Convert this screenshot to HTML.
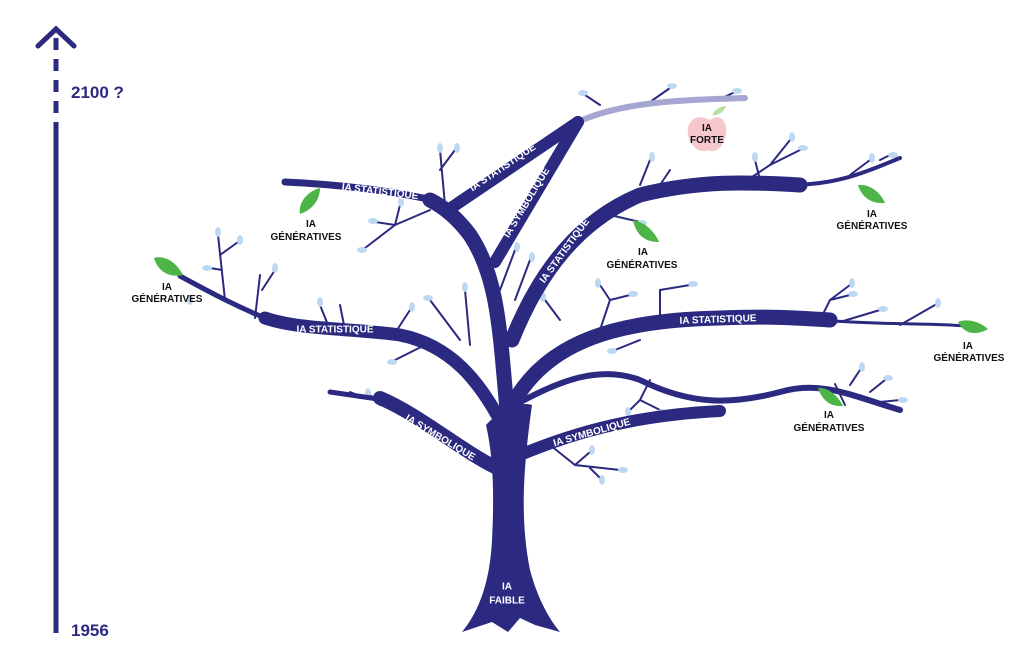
<!DOCTYPE html>
<html><head><meta charset="utf-8"><style>
html,body{margin:0;padding:0;background:#fff;width:1024px;height:657px;overflow:hidden}
svg{display:block}
.b{fill:none;stroke:#2b2a80;stroke-linecap:round;stroke-linejoin:round}
.t{fill:none;stroke:#2b2a80;stroke-width:2;stroke-linecap:round}
.lab{font-family:"Liberation Sans",sans-serif;font-weight:bold;fill:#fff;font-size:10px;text-anchor:middle;dominant-baseline:central}
.blk{font-family:"Liberation Sans",sans-serif;font-weight:bold;fill:#111;font-size:10px;text-anchor:middle}
.bud{fill:#bcd8f2}
.g{fill:#4db548}
</style></head><body>
<svg width="1024" height="657" viewBox="0 0 1024 657">
<!-- timeline -->
<polyline points="38,46 56,29 74,46" fill="none" stroke="#2b2a80" stroke-width="5" stroke-linecap="round"/>
<line x1="56" y1="38" x2="56" y2="125" stroke="#2b2a80" stroke-width="5" stroke-dasharray="12,9"/>
<line x1="56" y1="122" x2="56" y2="633" stroke="#2b2a80" stroke-width="5"/>
<text x="71" y="98" font-family="Liberation Sans,sans-serif" font-weight="bold" font-size="17" fill="#2b2a80">2100 ?</text>
<text x="71" y="636" font-family="Liberation Sans,sans-serif" font-weight="bold" font-size="17" fill="#2b2a80">1956</text>

<!-- twigs -->
<g class="t">
<path d="M445,205 L440,150 M440,170 L455,150"/>
<path d="M430,210 L395,225 L365,248 M395,225 L375,222 M395,225 L400,205"/>
<path d="M225,300 L218,235 M220,255 L238,242 M222,270 L210,268"/>
<path d="M255,318 L260,275 M262,290 L275,270"/>
<path d="M330,330 L320,305 M345,330 L340,305 M395,333 L410,310"/>
<path d="M425,345 L395,360 M460,340 L430,300 M470,345 L465,290"/>
<path d="M640,185 L650,160 M660,185 L670,170"/>
<path d="M740,185 L770,165 L790,140 M770,165 L800,150 M760,180 L755,160"/>
<path d="M880,160 L890,155 M850,175 L870,160"/>
<path d="M610,215 L640,222 M560,320 L545,300 M600,330 L610,300 M610,300 L600,285 M610,300 L630,295"/>
<path d="M660,320 L660,290 L690,285 M640,340 L615,350"/>
<path d="M820,320 L830,300 L850,285 M830,300 L850,295 M840,322 L880,310 M900,325 L935,305"/>
<path d="M650,380 L640,400 L630,410 M640,400 L660,410"/>
<path d="M850,385 L860,370 M870,392 L885,380 M880,402 L900,400 M835,384 L845,405"/>
<path d="M550,445 L575,465 L620,470 M575,465 L590,452 M590,468 L600,478"/>
<path d="M380,405 L370,395 M365,398 L350,392"/>
<path d="M500,290 L515,250 M515,300 L530,260"/>
<path d="M600,105 L585,95 M650,102 L670,88 M720,99 L735,92"/>
</g>
<g class="bud">
<ellipse cx="440" cy="148" rx="3" ry="5"/><ellipse cx="457" cy="148" rx="3" ry="5"/>
<ellipse cx="362" cy="250" rx="5" ry="3"/><ellipse cx="373" cy="221" rx="5" ry="3"/><ellipse cx="401" cy="202" rx="3" ry="5"/>
<ellipse cx="218" cy="232" rx="3" ry="5"/><ellipse cx="240" cy="240" rx="3" ry="5"/><ellipse cx="207" cy="268" rx="5" ry="3"/>
<ellipse cx="275" cy="268" rx="3" ry="5"/><ellipse cx="320" cy="302" rx="3" ry="5"/><ellipse cx="412" cy="307" rx="3" ry="5"/>
<ellipse cx="392" cy="362" rx="5" ry="3"/><ellipse cx="428" cy="298" rx="5" ry="3"/><ellipse cx="465" cy="287" rx="3" ry="5"/>
<ellipse cx="652" cy="157" rx="3" ry="5"/><ellipse cx="792" cy="137" rx="3" ry="5"/><ellipse cx="803" cy="148" rx="5" ry="3"/>
<ellipse cx="755" cy="157" rx="3" ry="5"/><ellipse cx="893" cy="155" rx="5" ry="3"/><ellipse cx="872" cy="158" rx="3" ry="5"/>
<ellipse cx="642" cy="223" rx="5" ry="3"/><ellipse cx="543" cy="297" rx="3" ry="5"/><ellipse cx="598" cy="283" rx="3" ry="5"/><ellipse cx="633" cy="294" rx="5" ry="3"/>
<ellipse cx="693" cy="284" rx="5" ry="3"/><ellipse cx="612" cy="351" rx="5" ry="3"/><ellipse cx="852" cy="283" rx="3" ry="5"/>
<ellipse cx="853" cy="294" rx="5" ry="3"/><ellipse cx="883" cy="309" rx="5" ry="3"/><ellipse cx="938" cy="303" rx="3" ry="5"/>
<ellipse cx="628" cy="412" rx="3" ry="5"/><ellipse cx="662" cy="412" rx="5" ry="3"/><ellipse cx="862" cy="367" rx="3" ry="5"/>
<ellipse cx="888" cy="378" rx="5" ry="3"/><ellipse cx="903" cy="400" rx="5" ry="3"/><ellipse cx="623" cy="470" rx="5" ry="3"/>
<ellipse cx="592" cy="450" rx="3" ry="5"/><ellipse cx="602" cy="480" rx="3" ry="5"/><ellipse cx="368" cy="393" rx="3" ry="5"/>
<ellipse cx="517" cy="247" rx="3" ry="5"/><ellipse cx="532" cy="257" rx="3" ry="5"/><ellipse cx="583" cy="93" rx="5" ry="3"/>
<ellipse cx="672" cy="86" rx="5" ry="3"/><ellipse cx="737" cy="91" rx="5" ry="3"/><ellipse cx="190" cy="300" rx="3" ry="5"/>
</g>

<!-- light branch -->
<path d="M578,122 C620,102 680,100 745,98" fill="none" stroke="#a6a6d2" stroke-width="6" stroke-linecap="round"/>

<!-- main branches -->
<g class="b">
<path d="M497,468 C460,450 420,415 380,398" stroke-width="14"/>
<path d="M385,400 L330,392" stroke-width="5"/>
<path d="M520,455 C580,430 640,415 720,411" stroke-width="12"/>
<path d="M505,430 C480,380 450,345 400,335 C350,328 300,330 265,318" stroke-width="13"/>
<path d="M270,320 C240,308 215,295 180,276" stroke-width="5"/>
<path d="M515,405 C560,380 600,365 640,380 C690,405 730,405 780,392 C820,380 850,395 900,410" stroke-width="6"/>
<path d="M515,400 C550,340 620,320 720,318 C770,316 800,318 830,320" stroke-width="15"/>
<path d="M820,320 C880,325 930,323 965,326" stroke-width="3"/>
<path d="M512,340 C540,270 580,220 640,195 C700,180 750,182 800,185" stroke-width="15"/>
<path d="M790,185 C840,185 870,170 900,158" stroke-width="4"/>
<path d="M508,420 C500,340 500,280 470,235 C455,215 440,205 430,200" stroke-width="15"/>
<path d="M432,200 C390,190 330,184 285,182" stroke-width="7"/>
<path d="M448,210 L578,122" stroke-width="12"/>
<path d="M495,262 L578,122" stroke-width="12"/>
</g>
<!-- trunk -->
<path d="M486,425 C495,415 515,400 532,405 C523,470 520,520 530,570 C538,600 550,620 560,632 L535,625 L520,618 L508,632 L492,622 L462,632 C480,610 490,580 492,540 C494,500 494,460 486,425 Z" fill="#2b2a80"/>

<!-- labels -->
<text class="lab" transform="translate(440,438) rotate(31)">IA SYMBOLIQUE</text>
<text class="lab" transform="translate(592,433) rotate(-16)">IA SYMBOLIQUE</text>
<text class="lab" x="335" y="330">IA STATISTIQUE</text>
<text class="lab" transform="translate(718,320) rotate(-2)">IA STATISTIQUE</text>
<text class="lab" transform="translate(565,251) rotate(-54)">IA STATISTIQUE</text>
<text class="lab" transform="translate(380,192) rotate(7)">IA STATISTIQUE</text>
<text class="lab" transform="translate(503,168) rotate(-34)">IA STATISTIQUE</text>
<text class="lab" transform="translate(527,203) rotate(-59)">IA SYMBOLIQUE</text>
<text class="lab" x="507" y="587" font-size="11">IA</text>
<text class="lab" x="507" y="601" font-size="11">FAIBLE</text>

<!-- apple -->
<path d="M712,115 C716,108 722,106 726,106 C724,112 718,116 712,115Z" fill="#b5dfa5"/>
<path d="M710,120 C720,112 728,122 726,134 C724,148 714,154 708,150 C702,154 690,148 688,134 C686,122 696,112 710,120Z" fill="#f6c7cc"/>
<text x="707" y="131" class="blk" font-size="9">IA</text>
<text x="707" y="143" class="blk" font-size="9">FORTE</text>

<!-- green leaves -->
<path class="g" d="M320,188 C305,192 298,205 300,214 C312,210 320,200 320,188Z"/>
<path class="g" d="M154,258 C165,255 176,262 183,275 C170,278 158,272 154,258Z"/>
<path class="g" d="M633,220 C645,222 655,232 659,242 C645,242 636,235 633,220Z"/>
<path class="g" d="M858,185 C870,184 880,192 885,203 C872,204 862,198 858,185Z"/>
<path class="g" d="M958,322 C968,318 980,322 988,329 C976,336 964,334 958,322Z"/>
<path class="g" d="M818,388 C828,387 838,396 843,406 C830,407 822,400 818,388Z"/>
<text class="blk" x="311" y="227">IA</text><text class="blk" x="306" y="240">GÉNÉRATIVES</text>
<text class="blk" x="167" y="290">IA</text><text class="blk" x="167" y="302">GÉNÉRATIVES</text>
<text class="blk" x="643" y="255">IA</text><text class="blk" x="642" y="268">GÉNÉRATIVES</text>
<text class="blk" x="872" y="217">IA</text><text class="blk" x="872" y="229">GÉNÉRATIVES</text>
<text class="blk" x="968" y="349">IA</text><text class="blk" x="969" y="361">GÉNÉRATIVES</text>
<text class="blk" x="829" y="418">IA</text><text class="blk" x="829" y="431">GÉNÉRATIVES</text>
</svg>
</body></html>
